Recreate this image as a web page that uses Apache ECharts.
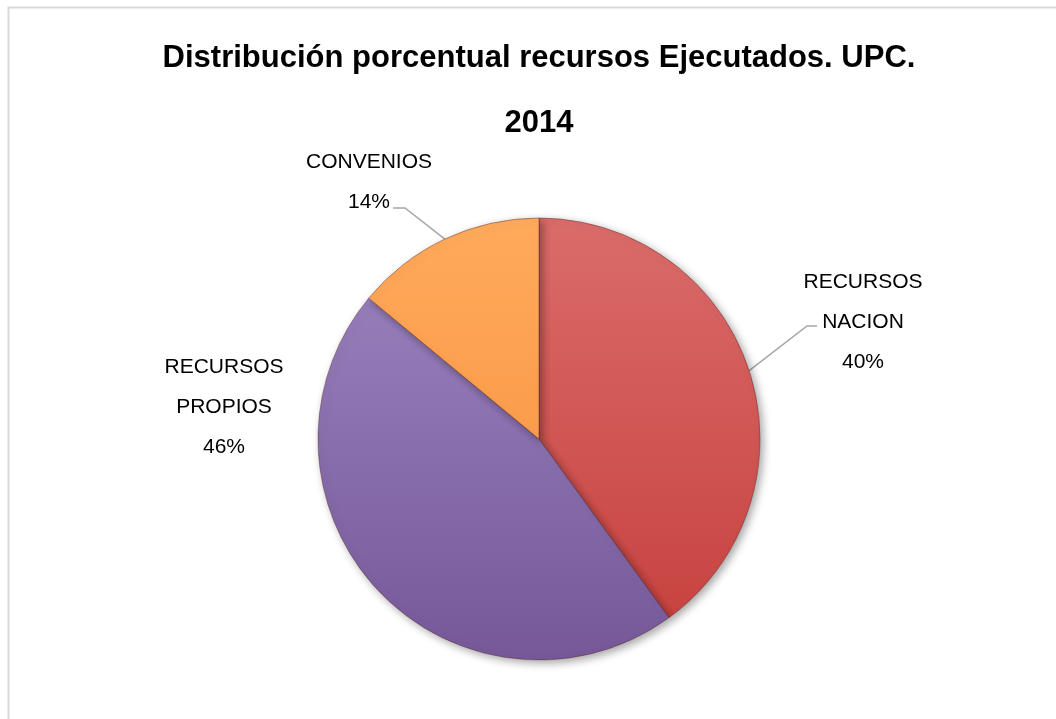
<!DOCTYPE html>
<html>
<head>
<meta charset="utf-8">
<script src="https://cdn.jsdelivr.net/npm/echarts@6/dist/echarts.min.js"></script>
<style>
html,body{margin:0;padding:0;background:#fff;}
#chart{width:1056px;height:719px;}
</style>
</head>
<body>
<div id="chart"></div>
<script>
// Data
const categories = ['RECURSOS NACION', 'RECURSOS PROPIOS', 'CONVENIOS'];
const percentValues = [40, 46, 14];
const titleLines = ['Distribución porcentual recursos Ejecutados. UPC.', '2014'];

// Styles / layout
const sliceColors = [
  ['#DA6C6A', '#C63F3C'],
  ['#9D86C2', '#765899'],
  ['#FFAA5C', '#F68F3A']
];
const CENTER = [539, 439];
const RADIUS = 221;
const labelCenters = [[863, 322], [224, 407], [369, 182]];
// elbow + end points of leader lines (null = no line)
const leaderEnds = [[[807, 326], [817, 326]], null, [[405, 208], [393, 208]]];

const chart = echarts.init(document.getElementById('chart'), null, {renderer: 'canvas'});
const FONT = '"Liberation Sans", Arial, sans-serif';

const total = percentValues.reduce((a, b) => a + b, 0);
function midAnchor(i) {
  let before = 0;
  for (let k = 0; k < i; k++) before += percentValues[k];
  const frac = (before + percentValues[i] / 2) / total;
  const a = frac * 2 * Math.PI; // clockwise from top
  return [CENTER[0] + RADIUS * Math.sin(a), CENTER[1] - RADIUS * Math.cos(a)];
}

const data = categories.map((name, i) => ({
  name: name,
  value: percentValues[i],
  itemStyle: {
    color: new echarts.graphic.LinearGradient(0, 218, 0, 660, [
      {offset: 0, color: sliceColors[i][0]},
      {offset: 1, color: sliceColors[i][1]}
    ], true)
  },
  labelLine: {show: leaderEnds[i] != null}
}));

chart.setOption({
  animation: false,
  backgroundColor: '#ffffff',
  title: {
    text: titleLines.join('\n'),
    left: 539,
    textAlign: 'center',
    top: 26,
    padding: 0,
    textStyle: {
      fontFamily: FONT,
      fontSize: 31,
      fontWeight: 'bold',
      color: '#000',
      lineHeight: 65
    }
  },
  graphic: [{
    type: 'rect',
    left: 6, top: 5,
    shape: {x: 0, y: 0, width: 1100, height: 800},
    style: {fill: 'none', stroke: '#D9D9D9', lineWidth: 2},
    silent: true
  }],
  series: [{
    type: 'pie',
    center: CENTER,
    radius: RADIUS,
    startAngle: 90,
    clockwise: true,
    data: data,
    itemStyle: {
      borderColor: 'rgba(90,40,40,0.45)',
      borderWidth: 1,
      shadowBlur: 8,
      shadowOffsetX: 3,
      shadowOffsetY: 3,
      shadowColor: 'rgba(0,0,0,0.35)'
    },
    label: {
      show: true,
      formatter: p => p.name.replace(' ', '\n') + '\n' + p.value + '%',
      fontFamily: FONT,
      fontSize: 21,
      lineHeight: 40,
      color: '#000',
      align: 'center'
    },
    labelLine: {
      show: true,
      lineStyle: {color: '#A6A6A6', width: 1.5}
    },
    labelLayout: function (params) {
      const i = params.dataIndex;
      const c = labelCenters[i];
      const out = {x: c[0], y: c[1], align: 'center', verticalAlign: 'middle'};
      if (leaderEnds[i]) {
        out.labelLinePoints = [midAnchor(i), leaderEnds[i][0], leaderEnds[i][1]];
      }
      return out;
    }
  }]
});
</script>
</body>
</html>
